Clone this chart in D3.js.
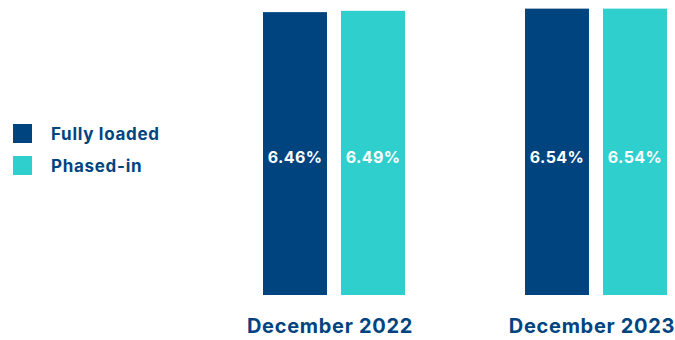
<!DOCTYPE html>
<html>
<head>
<meta charset="utf-8">
<script src="https://cdn.jsdelivr.net/npm/d3@7"></script>
<style>
  html, body { margin: 0; padding: 0; background: #fff; }
  svg { display: block; font-family: Inter, "Noto Sans", sans-serif; }
</style>
</head>
<body>
<svg id="chart" width="675" height="340"></svg>
<script>
// Leverage ratio by reporting date
const periods = ["December 2022", "December 2023"];
const seriesNames = ["Fully loaded", "Phased-in"];
const fullyLoaded = [6.46, 6.54];
const phasedIn = [6.49, 6.54];
const colors = ["#00447f", "#2fcfce"];
const textColor = "#00447f";

const svg = d3.select("#chart");

const rows = periods.map((p, i) => ({ period: p, values: [fullyLoaded[i], phasedIn[i]] }));

const x0 = d3.scaleBand().domain(periods).range([263, 667]).paddingInner(0.458).paddingOuter(0);
const x1 = d3.scaleBand().domain(seriesNames).range([0, x0.bandwidth()]).paddingInner(0.18);
const y = d3.scaleLinear().domain([0, 6.6]).range([295, 6]);

const groups = svg.selectAll("g.period")
  .data(rows)
  .join("g")
  .attr("class", "period")
  .attr("transform", d => `translate(${x0(d.period)},0)`);

groups.selectAll("rect")
  .data(d => d.values.map((v, j) => ({ name: seriesNames[j], value: v, j })))
  .join("rect")
  .attr("x", d => x1(d.name))
  .attr("width", x1.bandwidth())
  .attr("y", d => y(d.value))
  .attr("height", d => y(0) - y(d.value))
  .attr("fill", d => colors[d.j]);

groups.selectAll("text.value")
  .data(d => d.values.map((v, j) => ({ name: seriesNames[j], value: v })))
  .join("text")
  .attr("class", "value")
  .attr("x", d => x1(d.name) + x1.bandwidth() / 2)
  .attr("y", 163)
  .attr("text-anchor", "middle")
  .attr("fill", "#fff")
  .attr("font-size", 16)
  .attr("font-weight", 700)
  .attr("letter-spacing", 0.4)
  .text(d => d.value.toFixed(2) + "%");

// Category axis
const xAxis = svg.append("g")
  .attr("transform", "translate(-4,295)")
  .call(d3.axisBottom(x0).tickSize(0).tickPadding(0));
xAxis.select(".domain").remove();
xAxis.selectAll("text")
  .attr("y", 38)
  .attr("dy", 0)
  .attr("fill", textColor)
  .attr("font-size", 20)
  .attr("font-weight", 700)
  .attr("letter-spacing", 0.7)
  .attr("font-family", "Inter, 'Noto Sans', sans-serif");

// Legend
const legend = svg.append("g")
  .selectAll("g")
  .data(seriesNames)
  .join("g")
  .attr("transform", (d, i) => `translate(13,${124 + i * 32})`);

legend.append("rect")
  .attr("width", 19)
  .attr("height", 19)
  .attr("fill", (d, i) => colors[i]);

legend.append("text")
  .attr("x", 38)
  .attr("y", 15.5)
  .attr("fill", textColor)
  .attr("font-size", 17)
  .attr("font-weight", 700)
  .attr("letter-spacing", 0.7)
  .text(d => d);
</script>
</body>
</html>
